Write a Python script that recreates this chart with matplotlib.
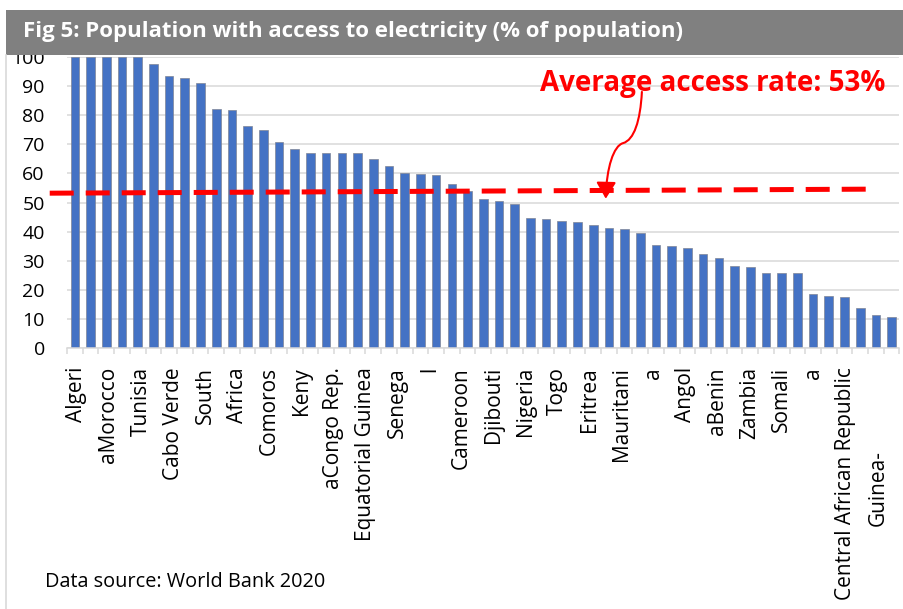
import numpy as np
import matplotlib
matplotlib.use("Agg")
import matplotlib.pyplot as plt
from matplotlib.patches import Rectangle, FancyArrowPatch
from matplotlib.path import Path
from matplotlib.lines import Line2D

plt.rcParams['font.family'] = ['Open Sans', 'DejaVu Sans']

# access to electricity, % of population, sorted (53 countries)
access = [100, 100, 100, 100, 100, 97.6, 93.6, 92.9, 91.2, 82.2,
          81.8, 76.4, 74.9, 70.8, 68.5, 66.9, 66.9, 66.9, 66.9, 64.8,
          62.5, 60.3, 59.9, 59.6, 56.4, 53.8, 51.2, 50.6, 49.5, 44.8,
          44.4, 43.8, 43.2, 42.4, 41.2, 40.9, 39.6, 35.3, 35.1, 34.4,
          32.2, 30.8, 28.3, 27.9, 25.9, 25.7, 25.7, 18.7, 17.8, 17.4,
          13.7, 11.5, 10.8]

# category labels as they show up under every second bar
labels = ["Algeri", "aMorocco", "Tunisia", "Cabo Verde", "South", "Africa",
          "Comoros", "Keny", "aCongo Rep.", "Equatorial Guinea", "Senega", "l",
          "Cameroon", "Djibouti", "Nigeria", "Togo", "Eritrea", "Mauritani",
          "a", "Angol", "aBenin", "Zambia", "Somali", "a",
          "Central African Republic", "Guinea-", "Bissau"]

avg_line = [53.2, 54.6]   # hand drawn average line, left / right end
avg_text = "Average access rate: 53%"

W, H = 904, 609
fig = plt.figure(figsize=(W / 100, H / 100), dpi=100)
ax = fig.add_axes([67 / W, 1 - 348 / H, (899.5 - 67) / W, (348 - 57) / H])

x = np.arange(len(access))
ax.bar(x, access, width=0.55, color='#4472C4', edgecolor='#7f8595',
       linewidth=0.5, zorder=2)

ax.set_xlim(-0.5, len(access) - 0.5)
ax.set_ylim(0, 100)
ax.set_yticks(range(0, 101, 10))
ax.tick_params(axis='y', length=0, pad=16, labelsize=14)
ax.grid(axis='y', color='#d9d9d9', linewidth=1.1, zorder=0)

for s in ['left', 'right', 'top']:
    ax.spines[s].set_visible(False)
ax.spines['bottom'].set_color('#d9d9d9')
ax.spines['bottom'].set_linewidth(1.1)

ax.set_xticks([])
ax.set_xticks(np.arange(len(access) + 1) - 0.5, minor=True)
ax.tick_params(axis='x', which='minor', length=4, width=1.1, color='#d9d9d9')

# x labels, rotated, end of text at top
trans = ax.get_xaxis_transform()
for j, lab in enumerate(labels):
    xp = 0.13 + 2.04 * j
    top = 367
    if lab == "Guinea-":
        top = 450
    if lab == "Bissau":
        top = 413
        xp = 53.4
    ax.text(xp, -(top - 348) / 291, lab, rotation=90, ha='center', va='top',
            fontsize=15, transform=trans, clip_on=False)

# dashed average line
ax.plot([-1.6, 51.1], avg_line, color='#ff0000', linewidth=3.6,
        dashes=(4.8, 2.4), clip_on=False, zorder=4)

ax.text(40.6, 91.0, avg_text, color='#ff0000', fontsize=20,
        fontweight='bold', ha='center', va='center', zorder=5)

verts = [(36.1, 88.0), (36.0, 78.0), (35.6, 71.5), (34.9, 70.4),
         (34.3, 69.5), (33.85, 62.0), (33.8, 51.3)]
codes = [Path.MOVETO, Path.CURVE4, Path.CURVE4, Path.CURVE4,
         Path.CURVE4, Path.CURVE4, Path.CURVE4]
arrow = FancyArrowPatch(path=Path(verts, codes),
                        arrowstyle='-|>,head_length=10,head_width=6',
                        mutation_scale=1, color='#ff0000', linewidth=1.5,
                        transform=ax.transData, zorder=5)
ax.add_patch(arrow)

# title bar and frame
fig.patches.append(Rectangle((6 / W, 1 - 55 / H), 1 - 6 / W, 45 / H,
                             transform=fig.transFigure, facecolor='#808080',
                             edgecolor='none', zorder=0))
fig.lines.append(Line2D([6.5 / W, 6.5 / W], [0, 1 - 55 / H],
                        transform=fig.transFigure, color='#d9d9d9',
                        linewidth=1.2))
fig.text(23 / W, 1 - 31 / H,
         "Fig 5: Population with access to electricity (% of population)",
         color='white', fontsize=16, fontweight='bold', va='center')

fig.text(45 / W, 1 - 582 / H, "Data source: World Bank 2020",
         fontsize=14.3, va='center')

fig.savefig("out.png", dpi=100)
